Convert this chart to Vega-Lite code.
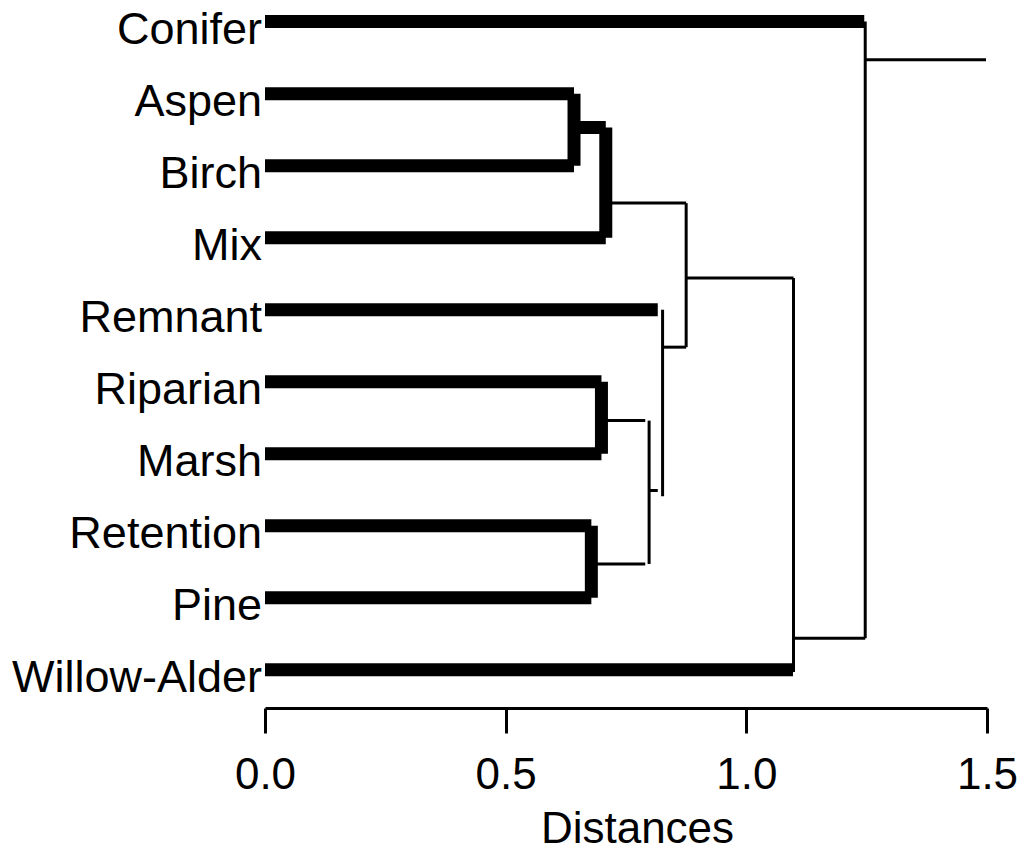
{
  "$schema": "https://vega.github.io/schema/vega-lite/v6.json",
  "autosize": "none",
  "width": 722,
  "height": 708,
  "padding": {"left": 265, "top": 0, "right": 39, "bottom": 143},
  "background": "white",
  "config": {"view": {"stroke": null}},
  "datasets": {
    "leaves": [
      {"name": "Conifer", "idx": 0},
      {"name": "Aspen", "idx": 1},
      {"name": "Birch", "idx": 2},
      {"name": "Mix", "idx": 3},
      {"name": "Remnant", "idx": 4},
      {"name": "Riparian", "idx": 5},
      {"name": "Marsh", "idx": 6},
      {"name": "Retention", "idx": 7},
      {"name": "Pine", "idx": 8},
      {"name": "Willow-Alder", "idx": 9}
    ],
    "thick": [
      {"x": 0, "x2": 1.245, "y": 0, "y2": 0},
      {"x": 0, "x2": 0.642, "y": 1, "y2": 1},
      {"x": 0, "x2": 0.642, "y": 2, "y2": 2},
      {"x": 0.642, "x2": 0.642, "y": 1, "y2": 2},
      {"x": 0.642, "x2": 0.708, "y": 1.47, "y2": 1.47},
      {"x": 0.708, "x2": 0.708, "y": 1.47, "y2": 3},
      {"x": 0, "x2": 0.708, "y": 3, "y2": 3},
      {"x": 0, "x2": 0.816, "y": 4, "y2": 4},
      {"x": 0, "x2": 0.699, "y": 5, "y2": 5},
      {"x": 0, "x2": 0.699, "y": 6, "y2": 6},
      {"x": 0.699, "x2": 0.699, "y": 5, "y2": 6},
      {"x": 0, "x2": 0.678, "y": 7, "y2": 7},
      {"x": 0, "x2": 0.678, "y": 8, "y2": 8},
      {"x": 0.678, "x2": 0.678, "y": 7, "y2": 8},
      {"x": 0, "x2": 1.097, "y": 9, "y2": 9}
    ],
    "thin": [
      {"x": 0.708, "x2": 0.875, "y": 2.52, "y2": 2.52},
      {"x": 0.875, "x2": 0.875, "y": 2.52, "y2": 4.52},
      {"x": 0.826, "x2": 0.875, "y": 4.52, "y2": 4.52},
      {"x": 0.826, "x2": 0.826, "y": 4.0, "y2": 6.59},
      {"x": 0.798, "x2": 0.816, "y": 6.51, "y2": 6.51},
      {"x": 0.798, "x2": 0.798, "y": 5.54, "y2": 7.53},
      {"x": 0.699, "x2": 0.79, "y": 5.54, "y2": 5.54},
      {"x": 0.678, "x2": 0.79, "y": 7.53, "y2": 7.53},
      {"x": 0.875, "x2": 1.098, "y": 3.56, "y2": 3.56},
      {"x": 1.098, "x2": 1.098, "y": 3.56, "y2": 9.03},
      {"x": 1.098, "x2": 1.247, "y": 8.56, "y2": 8.56},
      {"x": 1.247, "x2": 1.247, "y": 0, "y2": 8.56},
      {"x": 1.247, "x2": 1.498, "y": 0.53, "y2": 0.53}
    ]
  },
  "resolve": {"scale": {"x": "shared", "y": "shared"}},
  "layer": [
    {
      "data": {"name": "thin"},
      "mark": {"type": "rule", "color": "black", "strokeWidth": 3, "strokeCap": "butt"},
      "encoding": {
        "x": {
          "field": "x", "type": "quantitative",
          "scale": {"domain": [0, 1.5], "nice": false, "zero": false},
          "axis": {
            "values": [0, 0.5, 1.0, 1.5],
            "format": ".1f",
            "grid": false,
            "domainColor": "black",
            "domainWidth": 3,
            "tickColor": "black",
            "tickWidth": 3,
            "tickSize": 25,
            "labelFont": "Liberation Sans",
            "labelFontSize": 44,
            "labelColor": "black",
            "labelPadding": 20,
            "labelFlush": false,
            "labelOverlap": false,
            "title": "Distances",
            "titleFont": "Liberation Sans",
            "titleFontSize": 44,
            "titleFontWeight": "normal",
            "titleColor": "black",
            "titleBaseline": "alphabetic",
            "titleAlign": "center",
            "titleAnchor": null,
            "titleX": 372,
            "titleY": 134
          }
        },
        "x2": {"field": "x2"},
        "y": {
          "field": "y", "type": "quantitative",
          "scale": {"domain": [-0.3, 9.53], "nice": false, "zero": false, "reverse": true},
          "axis": null
        },
        "y2": {"field": "y2"}
      }
    },
    {
      "data": {"name": "thick"},
      "mark": {"type": "rule", "color": "black", "strokeWidth": 13, "strokeCap": "butt"},
      "encoding": {
        "x": {"field": "x", "type": "quantitative"},
        "x2": {"field": "x2"},
        "y": {"field": "y", "type": "quantitative"},
        "y2": {"field": "y2"}
      }
    },
    {
      "data": {"name": "leaves"},
      "mark": {"type": "text", "align": "right", "baseline": "alphabetic", "dx": -3, "dy": 22, "font": "Liberation Sans", "fontSize": 45, "color": "black"},
      "encoding": {
        "x": {"datum": 0, "type": "quantitative"},
        "y": {"field": "idx", "type": "quantitative"},
        "text": {"field": "name"}
      }
    }
  ]
}
